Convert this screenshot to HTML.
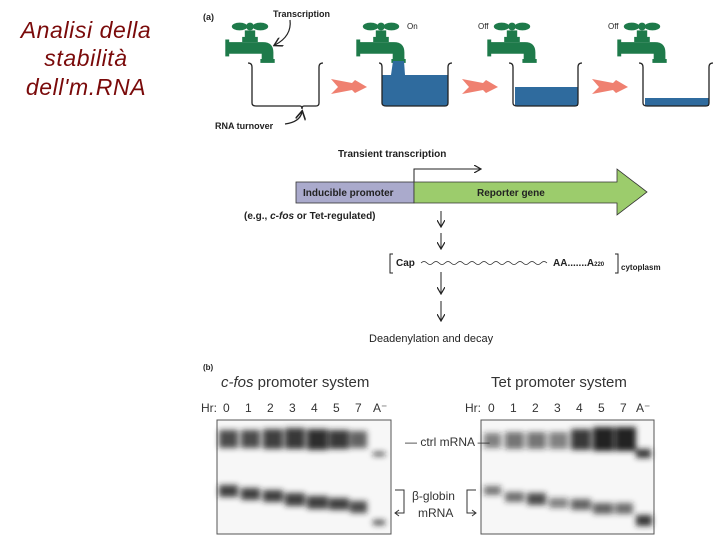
<!DOCTYPE html>
<html><head><style>
body{margin:0;width:720px;height:540px;background:#fff;overflow:hidden;font-family:"Liberation Sans",sans-serif}
</style></head><body>
<svg width="720" height="540" xmlns="http://www.w3.org/2000/svg" font-family="Liberation Sans, sans-serif">
<defs>
<filter id="bl" x="-50%" y="-50%" width="200%" height="200%"><feGaussianBlur stdDeviation="2.8"/></filter>
<g id="tap" fill="#1e7a4a">
<ellipse cx="-8" cy="-5" rx="6" ry="3"/><ellipse cx="8" cy="-5" rx="6" ry="3"/><circle cx="0" cy="-5" r="3"/>
<rect x="-4" y="-2" width="8" height="6"/><rect x="-6" y="3" width="12" height="4"/>
<path d="M-17 7 H10 Q18 7 18 15 V21 H9 V16 H-17 Z"/><rect x="-19" y="5" width="3" height="13"/>
<rect x="8" y="20" width="11" height="3"/>
</g>
<marker id="ah" markerWidth="8" markerHeight="8" refX="6" refY="4" orient="auto"><path d="M0 0 L7 4 L0 8" fill="none" stroke="#222" stroke-width="1.2"/></marker>
</defs>
<g font-size="23" font-style="italic" fill="#7a0a0a" text-anchor="middle" letter-spacing="0.6">
<text x="86" y="38">Analisi della</text>
<text x="86" y="66">stabilità</text>
<text x="86" y="95">dell'm.RNA</text>
</g>

<text x="203" y="20" font-size="9" font-weight="bold" fill="#222">(a)</text>
<text x="273" y="17" font-size="9" font-weight="bold" fill="#222">Transcription</text>
<path d="M290 20 Q292 36 275 45" fill="none" stroke="#222" stroke-width="1.2" marker-end="url(#ah)"/>
<use href="#tap" transform="translate(250,33) scale(1.3)"/>
<use href="#tap" transform="translate(381,33) scale(1.3)"/>
<use href="#tap" transform="translate(512,33) scale(1.3)"/>
<use href="#tap" transform="translate(642,33) scale(1.3)"/>
<text x="407" y="29" font-size="8" fill="#222">On</text>
<text x="478" y="29" font-size="8" fill="#222">Off</text>
<text x="608" y="29" font-size="8" fill="#222">Off</text>
<path d="M393 61 H404 L405 75 H448 V103 Q448 106 445 106 H385 Q382 106 382 103 V75 H391 Z" fill="#2f6b9e"/>
<rect x="515" y="87" width="63" height="19" fill="#2f6b9e"/>
<rect x="645" y="98" width="64" height="8" fill="#2f6b9e"/>
<g fill="none" stroke="#222" stroke-width="1.3">
<path d="M248 63 Q252 63 252 67 V103 Q252 106 256 106 H300 Q302 106 302 109 Q302 106 304 106 H316 Q319 106 319 103 V67 Q319 63 323 63"/>
<path d="M379 63 Q382 63 382 67 V103 Q382 106 386 106 H445 Q448 106 448 103 V67 Q448 63 452 63"/>
<path d="M509 63 Q513 63 513 67 V103 Q513 106 517 106 H575 Q578 106 578 103 V67 Q578 63 582 63"/>
<path d="M639 63 Q643 63 643 67 V103 Q643 106 647 106 H706 Q709 106 709 103 V67 Q709 63 713 63"/>
<path d="M285 124 Q300 122 302 112" marker-end="url(#ah)"/>
</g>
<text x="215" y="129" font-size="9" font-weight="bold" fill="#222">RNA turnover</text>
<g fill="#ef8070">
<path d="M331 79 L352 83 L355 80 L367 87 L355 93 L352 90 L331 94 L338 87 Z"/>
<path d="M462 79 L483 83 L486 80 L498 87 L486 93 L483 90 L462 94 L469 87 Z"/>
<path d="M592 79 L613 83 L616 80 L628 87 L616 93 L613 90 L592 94 L599 87 Z"/>
</g>

<text x="338" y="157" font-size="10" font-weight="bold" fill="#222">Transient transcription</text>
<path d="M414 182 V169 H480" fill="none" stroke="#222" stroke-width="1" marker-end="url(#ah)"/>
<rect x="296" y="182" width="118" height="21" fill="#aaaacc" stroke="#333" stroke-width="0.8"/>
<text x="303" y="196" font-size="10" font-weight="bold" fill="#222">Inducible promoter</text>
<path d="M414 182 H617 V169 L647 192 L617 215 V203 H414 Z" fill="#9ccc6c" stroke="#333" stroke-width="0.8"/>
<text x="477" y="196" font-size="10" font-weight="bold" fill="#222">Reporter gene</text>
<text x="244" y="219" font-size="10" font-weight="bold" fill="#222">(e.g., <tspan font-style="italic">c-fos</tspan> or Tet-regulated)</text>
<g stroke="#222" stroke-width="1" fill="none">
<path d="M441 211 V226" marker-end="url(#ah)"/>
<path d="M441 233 V248" marker-end="url(#ah)"/>
<path d="M441 272 V293" marker-end="url(#ah)"/>
<path d="M441 301 V320" marker-end="url(#ah)"/>
<path d="M393 254 H390 V273 H393"/><path d="M615 254 H618 V273 H615"/>
<path d="M421 263 q3 -3 6 0 t6 0 t6 0 t6 0 t6 0 t6 0 t6 0 t6 0 t6 0 t6 0 t6 0 t6 0 t6 0 t6 0 t6 0 t6 0 t6 0 t6 0 t6 0 t6 0 t6 0" stroke-width="0.7"/>
</g>
<text x="396" y="266" font-size="10" font-weight="bold" fill="#222">Cap</text>
<text x="553" y="266" font-size="10" font-weight="bold" fill="#222">AA.......A<tspan font-size="6">220</tspan></text>
<text x="621" y="270" font-size="8" font-weight="bold" fill="#222">cytoplasm</text>
<text x="369" y="342" font-size="11" fill="#222">Deadenylation and decay</text>

<text x="203" y="370" font-size="8" font-weight="bold" fill="#222">(b)</text>
<text x="221" y="387" font-size="15" fill="#333"><tspan font-style="italic">c-fos</tspan> promoter system</text>
<text x="491" y="387" font-size="15" fill="#333">Tet promoter system</text>
<g font-size="12" fill="#333">
<text x="201" y="412">Hr:</text><text x="223" y="412">0</text><text x="245" y="412">1</text><text x="267" y="412">2</text><text x="289" y="412">3</text><text x="311" y="412">4</text><text x="333" y="412">5</text><text x="355" y="412">7</text><text x="373" y="412">A⁻</text>
<text x="465" y="412">Hr:</text><text x="488" y="412">0</text><text x="510" y="412">1</text><text x="532" y="412">2</text><text x="554" y="412">3</text><text x="576" y="412">4</text><text x="598" y="412">5</text><text x="620" y="412">7</text><text x="636" y="412">A⁻</text>
</g>
<rect x="217" y="420" width="174" height="114" fill="#f7f7f7" stroke="#555"/>
<rect x="481" y="420" width="173" height="114" fill="#f7f7f7" stroke="#555"/>
<g filter="url(#bl)" fill="#222">
<rect x="219" y="430" width="19" height="18" opacity="0.8"/><rect x="241" y="430" width="19" height="18" opacity="0.8"/><rect x="263" y="429" width="20" height="20" opacity="0.85"/><rect x="285" y="428" width="20" height="21" opacity="0.9"/><rect x="307" y="429" width="21" height="21" opacity="0.95"/><rect x="329" y="430" width="20" height="19" opacity="0.9"/><rect x="350" y="431" width="17" height="17" opacity="0.7"/><rect x="373" y="452" width="12" height="4" opacity="0.8"/>
<rect x="219" y="485" width="19" height="12" opacity="0.85"/><rect x="241" y="488" width="19" height="12" opacity="0.85"/><rect x="263" y="490" width="20" height="12" opacity="0.85"/><rect x="285" y="493" width="20" height="13" opacity="0.85"/><rect x="307" y="496" width="21" height="13" opacity="0.85"/><rect x="329" y="498" width="20" height="12" opacity="0.85"/><rect x="350" y="501" width="17" height="12" opacity="0.8"/><rect x="373" y="520" width="12" height="5" opacity="0.8"/>
<rect x="484" y="433" width="17" height="15" opacity="0.55"/><rect x="505" y="432" width="19" height="17" opacity="0.6"/><rect x="527" y="432" width="19" height="17" opacity="0.6"/><rect x="549" y="432" width="19" height="17" opacity="0.55"/><rect x="571" y="429" width="20" height="21" opacity="0.9"/><rect x="593" y="427" width="21" height="24" opacity="1"/><rect x="615" y="427" width="21" height="24" opacity="1"/><rect x="636" y="449" width="15" height="9" opacity="0.9"/>
<rect x="484" y="486" width="17" height="9" opacity="0.6"/><rect x="505" y="492" width="19" height="10" opacity="0.65"/><rect x="527" y="493" width="19" height="12" opacity="0.8"/><rect x="549" y="498" width="19" height="10" opacity="0.55"/><rect x="571" y="499" width="20" height="11" opacity="0.7"/><rect x="593" y="503" width="20" height="11" opacity="0.7"/><rect x="615" y="503" width="18" height="11" opacity="0.65"/><rect x="636" y="515" width="16" height="11" opacity="0.9"/>
</g>
<text x="405" y="446" font-size="12" fill="#333">— ctrl mRNA —</text>
<text x="412" y="500" font-size="12" fill="#333">β-globin</text>
<text x="418" y="517" font-size="12" fill="#333">mRNA</text>
<path d="M395 490 H404 V513 H395" fill="none" stroke="#333"/><path d="M399 510 L395 513 L399 516" fill="none" stroke="#333"/>
<path d="M476 490 H467 V513 H476" fill="none" stroke="#333"/><path d="M472 510 L476 513 L472 516" fill="none" stroke="#333"/>
</svg>
</body></html>
